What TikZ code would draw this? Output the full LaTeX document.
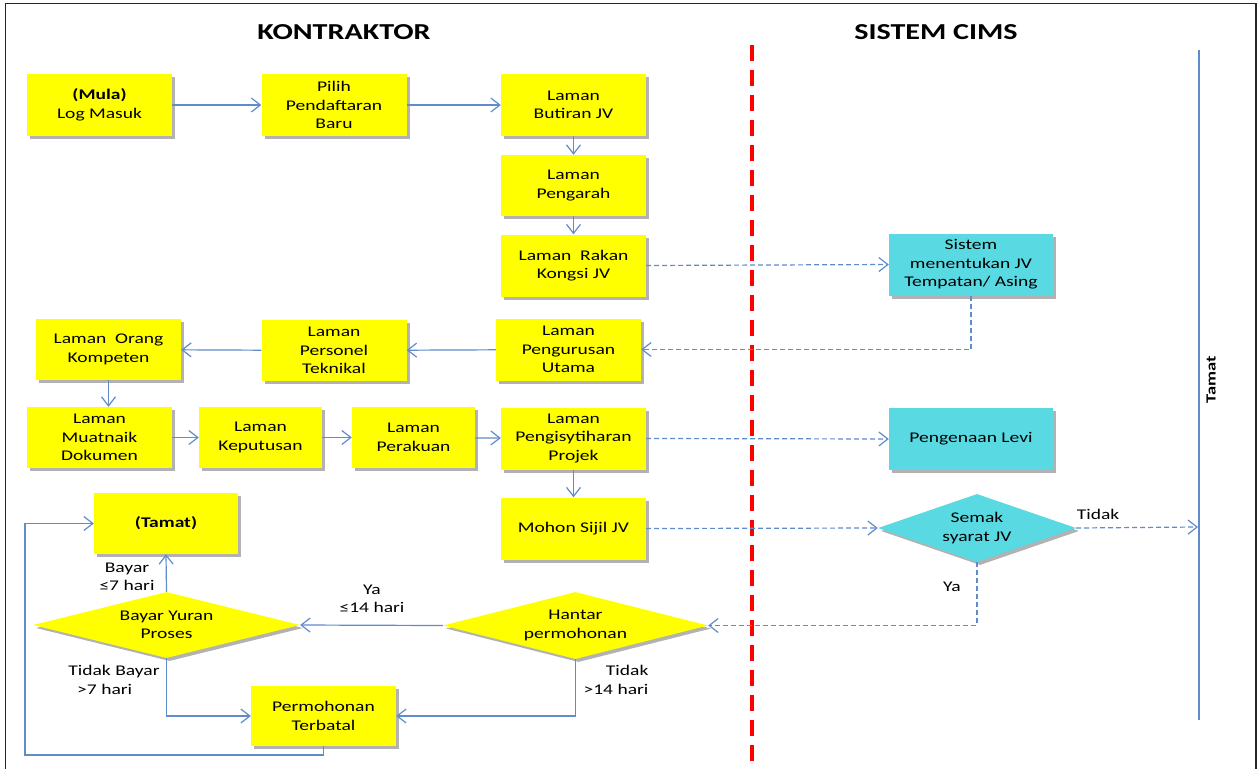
\documentclass[tikz,border=0pt]{standalone}
\usepackage{fontspec}
\setmainfont{Carlito}[FakeStretch=1.32]
\usetikzlibrary{arrows.meta,shapes.geometric,shadows,calc}
\definecolor{lineblue}{RGB}{96,140,204}
\definecolor{boxyellow}{RGB}{255,255,0}
\definecolor{boxcyan}{RGB}{89,217,226}
\begin{document}
\begin{tikzpicture}[x=1pt,y=-1pt,
  every node/.style={font=\fontsize{14.8}{18.5}\selectfont},
  shad/.style={drop shadow={shadow xshift=3pt,shadow yshift=-3pt,opacity=0.3,fill=black}},
  ybox/.style={shad,fill=boxyellow,minimum width=145,minimum height=62,inner sep=0pt,align=center},
  cbox/.style={shad,fill=boxcyan,minimum width=164,minimum height=62,inner sep=0pt,align=center},
  ydia/.style={shad,shape=diamond,aspect=4,fill=boxyellow,inner sep=0pt,align=center},
  cdia/.style={shad,shape=diamond,aspect=3,fill=boxcyan,inner sep=0pt,align=center,minimum width=198,minimum height=68},
  conn/.style={draw=lineblue,line width=1.2pt,-{Straight Barb[length=9pt,width=14pt,line width=1.2pt]}},
  dconn/.style={conn,dash pattern=on 5pt off 3pt},
  title/.style={font=\fontsize{22.8}{26}\selectfont\bfseries},
  lbl/.style={align=center,inner sep=0pt}
]
\useasboundingbox (0,0) rectangle (1260,769);
\fill[white] (0,0) rectangle (1260,769);
\draw[line width=1.6pt,black!85] (5.5,769) -- (5.5,3.5) -- (1256,3.5) -- (1256,769);

% titles
\node[title] (tk) at (344,32) {KONTRAKTOR};
\node[title] (ts) at (936,32) {SISTEM CIMS};

% red divider
\coordinate (rtop) at (752,45);
\coordinate (rbot) at (752,765);
\draw[red,line width=3.6pt,dash pattern=on 16pt off 9pt] (rtop) -- (rbot);

% end line
\coordinate (etop) at (1199,50);
\coordinate (ebot) at (1199,720);
\draw[lineblue,line width=1.2pt] (etop) -- (ebot);
\node[rotate=90,font=\fontsize{14}{16}\selectfont\bfseries] (tamatlbl) at (1211,380) {Tamat};
\coordinate (eend) at (1198,527);

% yellow boxes
\node[ybox] (mula) at (99.5,105) {\textbf{(Mula)}\\Log Masuk};
\node[ybox] (pilih) at (334,105) {Pilih\\Pendaftaran\\Baru};
\node[ybox] (butiran) at (573.5,105) {Laman\\Butiran JV};
\node[ybox,minimum height=61] (pengarah) at (573.5,185.5) {Laman\\Pengarah};
\node[ybox] (rakan) at (573.5,265.5) {Laman\ \ Rakan\\Kongsi JV};
\node[ybox] (urus) at (568.5,349.5) {Laman\\Pengurusan\\Utama};
\node[ybox,minimum height=61] (personel) at (334,350.5) {Laman\\Personel\\Teknikal};
\node[ybox,minimum height=61] (orang) at (108.5,349.5) {Laman\ \ Orang\\Kompeten};
\node[ybox,minimum height=61] (muat) at (99.5,437.5) {Laman\\Muatnaik\\Dokumen};
\node[ybox,minimum width=123,minimum height=61] (keput) at (260.5,437.5) {Laman\\Keputusan};
\node[ybox,minimum width=123,minimum height=61] (perak) at (413.5,437.5) {Laman\\Perakuan};
\node[ybox] (pengis) at (573.5,438.5) {Laman\\Pengisytiharan\\Projek};
\node[ybox] (mohon) at (573.5,528.5) {Mohon Sijil JV};
\node[ybox,minimum width=144,minimum height=61] (tamat) at (166,523.5) {\textbf{(Tamat)}};
\node[ybox,minimum height=60] (perm) at (323.5,716) {Permohonan\\Terbatal};

% diamonds
\node[ydia,minimum width=267,minimum height=66] (bayar) at (166.5,625) {Bayar Yuran\\Proses};
\node[ydia,minimum width=265,minimum height=67] (hantar) at (575.5,625.5) {Hantar\\permohonan};
\node[cdia] (semak) at (977,528) {Semak\\syarat JV};

% cyan boxes
\node[cbox] (sistem) at (971,264.5) {Sistem\\menentukan JV\\Tempatan/ Asing};
\node[cbox] (levi) at (971,439) {Pengenaan Levi};

% connectors
\draw[conn] (mula) -- (pilih);
\draw[conn] (pilih) -- (butiran);
\draw[conn] (butiran) -- (pengarah);
\draw[conn] (pengarah) -- (rakan);
\draw[dconn] (rakan.east) -- (sistem.west);
\draw[dconn] (sistem.south) |- (urus.east);
\draw[conn] (urus) -- (personel);
\draw[conn] (personel) -- (orang);
\draw[conn] (orang.south) -- (orang.south |- muat.north);
\draw[conn] (muat) -- (keput);
\draw[conn] (keput) -- (perak);
\draw[conn] (perak) -- (pengis);
\draw[dconn] (pengis.east) -- (levi.west);
\draw[conn] (pengis) -- (mohon);
\draw[dconn] (mohon.east) -- (semak.west);
\draw[dconn] (semak.east) -- (eend);
\draw[dconn] (semak.south) |- (hantar.east);
\draw[conn] (hantar.west) -- (bayar.east);
\draw[conn] (hantar.south) |- (perm.east);
\draw[conn] (bayar.north) -- (tamat.south);
\draw[conn] (bayar.south) |- (perm.west);
\coordinate (loopc) at (25,755);
\draw[conn] (perm.south) |- (loopc) |- (tamat.west);

% labels
\node[lbl] (tidak1) at (1098,514) {Tidak};
\node[lbl] (ya1) at (952,587) {Ya};
\node[lbl] (ya2) at (372,599) {Ya\\≤14 hari};
\node[lbl] (lb1) at (127,577) {Bayar\\≤7 hari};
\node[lbl,align=left] (lb2) at (114,680) {Tidak Bayar\\\ \ {>}7 hari};
\node[lbl,align=right] (lb3) at (616,680) {Tidak\\{>}14 hari};
\end{tikzpicture}
\end{document}
